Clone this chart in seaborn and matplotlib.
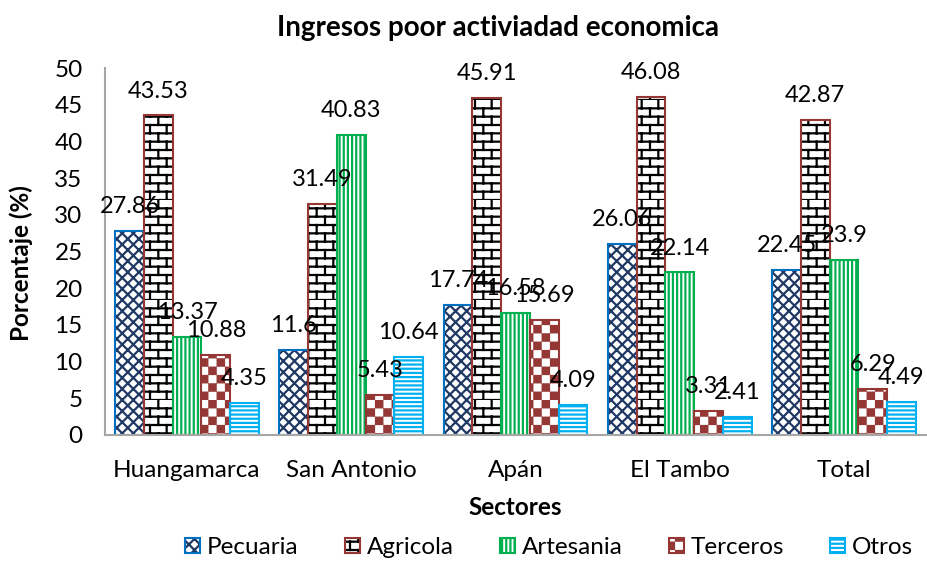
"""Ingresos por actividad economica: grouped, hatched bar chart."""

import warnings

import matplotlib

matplotlib.use("Agg")
import matplotlib.hatch as mhatch
import matplotlib.patches as mpatches
import matplotlib.pyplot as plt
import numpy as np
import pandas as pd
import seaborn as sns
from matplotlib.path import Path

warnings.filterwarnings("ignore", message="hatch must consist")

sectores = ["Huangamarca", "San Antonio", "Apán", "El Tambo", "Total"]
actividades = ["Pecuaria", "Agricola", "Artesania", "Terceros", "Otros"]
pecuaria = [27.86, 11.6, 17.74, 26.06, 22.45]
agricola = [43.53, 31.49, 45.91, 46.08, 42.87]
artesania = [13.37, 40.83, 16.58, 22.14, 23.9]
terceros = [10.88, 5.43, 15.69, 3.31, 6.29]
otros = [4.35, 10.64, 4.09, 2.41, 4.49]
y_ticks = [0, 5, 10, 15, 20, 25, 30, 35, 40, 45, 50]

HATCHES = ["xxx", "bb", "||||", "cc", "----"]
HATCH_COLORS = ["#1F3864", "#000000", "#00B050", "#953735", "#00B0F0"]
EDGE_COLORS = ["#0070C0", "#953735", "#00B050", "#953735", "#00B0F0"]


class BrickHatch(mhatch.HatchPatternBase):
    """'b' in a hatch string: staggered brick courses."""

    def __init__(self, hatch, density):
        self.rows = 2 * (hatch.count("b") * density // 2)
        self.cols = self.rows // 2
        self.num_vertices = 2 * self.rows * (1 + self.cols)

    def set_vertices_and_codes(self, vertices, codes):
        segs = []
        for i in range(self.rows):
            y0, y1 = i / self.rows, (i + 1) / self.rows
            segs.append([(0, y0), (1, y0)])
            shift = 0.5 * (i % 2)
            for j in range(self.cols):
                x = (j + shift) / self.cols
                segs.append([(x, y0), (x, y1)])
        vertices[:] = np.array(segs, dtype=float).reshape(-1, 2)
        codes[0::2] = Path.MOVETO
        codes[1::2] = Path.LINETO


class CheckerHatch(mhatch.HatchPatternBase):
    """'c' in a hatch string: filled checkerboard."""

    def __init__(self, hatch, density):
        self.n = 2 * (hatch.count("c") * density // 2)
        self.num_vertices = 5 * self.n * self.n // 2

    def set_vertices_and_codes(self, vertices, codes):
        n = self.n
        inset = 0.12 / n
        squares = []
        for i in range(n):
            for j in range(i % 2, n, 2):
                x0, y0 = j / n + inset, i / n + inset
                x1, y1 = (j + 1) / n - inset, (i + 1) / n - inset
                squares.append([(x0, y0), (x1, y0), (x1, y1), (x0, y1), (x0, y0)])
        vertices[:] = np.array(squares, dtype=float).reshape(-1, 2)
        square_codes = [Path.MOVETO, Path.LINETO, Path.LINETO, Path.LINETO, Path.CLOSEPOLY]
        codes[:] = np.tile(square_codes, len(squares))


mhatch._hatch_types += [BrickHatch, CheckerHatch]


def build_frame() -> pd.DataFrame:
    series = dict(zip(actividades, [pecuaria, agricola, artesania, terceros, otros]))
    rows = [
        {"sector": sector, "actividad": name, "valor": value}
        for name, values in series.items()
        for sector, value in zip(sectores, values)
    ]
    return pd.DataFrame(rows)


def main() -> None:
    sns.set_theme(style="white")
    plt.rcParams["font.family"] = ["Lato", "DejaVu Sans"]
    plt.rcParams["text.color"] = "black"
    plt.rcParams["axes.labelcolor"] = "black"
    plt.rcParams["hatch.linewidth"] = 1.6
    font_size = 17.5

    data = build_frame()
    figure = plt.figure(figsize=(9.28, 5.63), dpi=100)
    axis = figure.add_axes([0.113, 0.2274, 0.885, 0.6518])

    sns.barplot(
        data=data,
        x="sector",
        y="valor",
        hue="actividad",
        order=sectores,
        hue_order=actividades,
        palette=dict(zip(actividades, HATCH_COLORS)),
        width=0.875,
        errorbar=None,
        legend=False,
        ax=axis,
    )

    handles = []
    for index, container in enumerate(axis.containers):
        for patch in container:
            patch.set_facecolor("white")
            patch.set_edgecolor(HATCH_COLORS[index])
            patch.set_linewidth(0)
            patch.set_hatch(HATCHES[index])
            axis.add_patch(
                mpatches.Rectangle(
                    patch.get_xy(),
                    patch.get_width(),
                    patch.get_height(),
                    fill=False,
                    edgecolor=EDGE_COLORS[index],
                    linewidth=1.5,
                )
            )
        labels = axis.bar_label(container, fmt="%g", padding=10, fontsize=17, color="black")
        for label in labels:
            label.set_clip_on(False)
        handles.append(
            (
                mpatches.Patch(facecolor="white", edgecolor=HATCH_COLORS[index],
                               linewidth=0, hatch=HATCHES[index]),
                mpatches.Patch(facecolor="none", edgecolor=EDGE_COLORS[index], linewidth=1.5),
            )
        )

    axis.set_ylim(0, 50)
    axis.set_yticks(y_ticks)
    axis.tick_params(axis="both", length=0, labelsize=font_size, colors="black")
    axis.tick_params(axis="y", pad=16)
    axis.tick_params(axis="x", pad=18)
    sns.despine(ax=axis)
    for side in ("left", "bottom"):
        axis.spines[side].set_color("#A6A6A6")
        axis.spines[side].set_linewidth(1.5)

    axis.set_xlabel("Sectores", fontsize=font_size, fontweight="bold")
    axis.xaxis.set_label_coords(0.5, -0.165)
    axis.set_ylabel("Porcentaje (%)", fontsize=font_size, fontweight="bold")
    axis.yaxis.set_label_coords(-0.088, 0.469)

    figure.text(0.537, 0.95, "Ingresos poor activiadad economica", ha="center",
                va="center", fontsize=20, fontweight="bold")

    figure.legend(
        handles,
        actividades,
        loc="center",
        bbox_to_anchor=(0.592, 0.027),
        ncol=5,
        frameon=False,
        fontsize=font_size,
        handlelength=0.6,
        handleheight=0.6,
        handletextpad=0.3,
        columnspacing=1.9,
    )

    figure.savefig("out.png", dpi=100)
    plt.close(figure)


if __name__ == "__main__":
    main()
